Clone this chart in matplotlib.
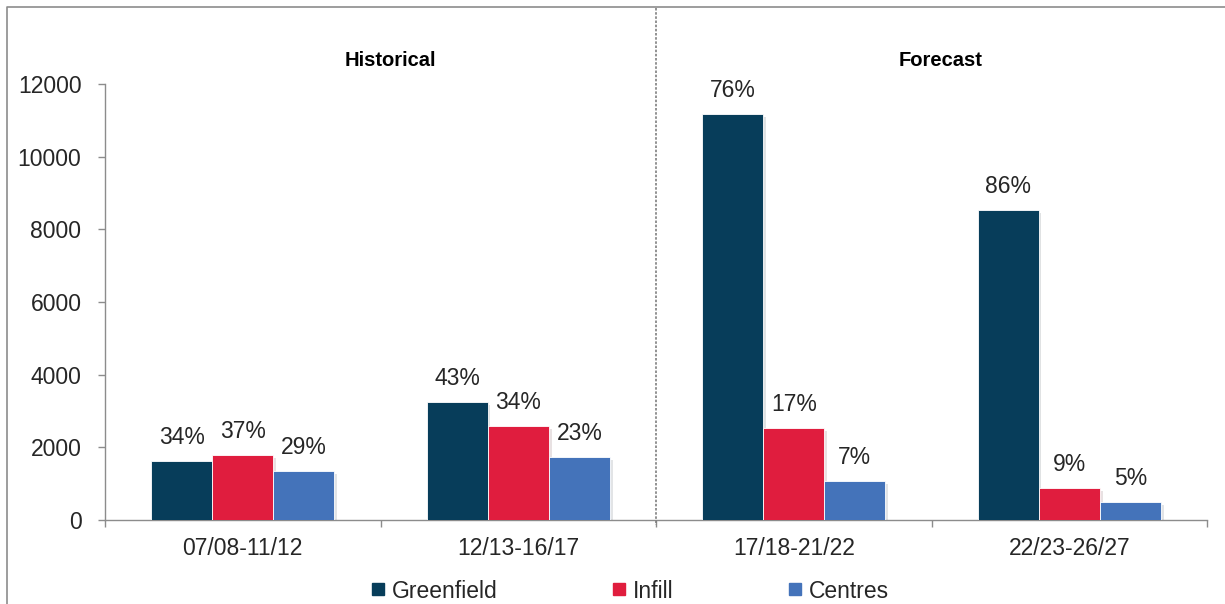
import matplotlib
matplotlib.use("Agg")
import matplotlib.pyplot as plt
from matplotlib.lines import Line2D
import matplotlib.patheffects as pe
import numpy as np

periods = ["07/08-11/12", "12/13-16/17", "17/18-21/22", "22/23-26/27"]
greenfield = [1620, 3250, 11170, 8530]
infill = [1790, 2590, 2530, 880]
centres = [1350, 1730, 1070, 495]
greenfield_pct = ["34%", "43%", "76%", "86%"]
infill_pct = ["37%", "34%", "17%", "9%"]
centres_pct = ["29%", "23%", "7%", "5%"]
series_names = ["Greenfield", "Infill", "Centres"]
colors = ["#073D5A", "#E01D3E", "#4473BA"]
headers = ["Historical", "Forecast"]

plt.rcParams['font.family'] = ['Liberation Sans', 'DejaVu Sans']
FS = 16.5
TXT = "#262626"
GREY = "#8C8C8C"

fig = plt.figure(figsize=(12.25, 6.04), dpi=100)
W, H = 1225, 604
ax = fig.add_axes([105 / W, 1 - 520 / H, (1207 - 105) / W, (520 - 84) / H])

x = np.arange(len(periods))
bw = 0.222
series = [greenfield, infill, centres]
pcts = [greenfield_pct, infill_pct, centres_pct]
shadow = [pe.SimplePatchShadow(offset=(2, -2), alpha=0.12), pe.Normal()]
for i, (vals, lab, col) in enumerate(zip(series, pcts, colors)):
    xs = x + (i - 1) * bw
    bars = ax.bar(xs, vals, width=bw, color=col, edgecolor="white", linewidth=0.6,
                  label=series_names[i], zorder=3)
    for b in bars:
        b.set_path_effects(shadow)
    for xi, v, t in zip(xs, vals, lab):
        ax.annotate(t, (xi, v), xytext=(0, 12), textcoords="offset points",
                    ha="center", va="baseline", fontsize=FS, color=TXT)

ax.set_xlim(-0.5, 3.5)
ax.set_ylim(0, 12000)
ax.set_yticks(np.arange(0, 12001, 2000))
ax.set_yticklabels([str(v) for v in range(0, 12001, 2000)], fontsize=FS, color=TXT)
ax.set_xticks(x)
ax.set_xticklabels(periods, fontsize=FS, color=TXT)
ax.tick_params(axis="x", which="major", length=0, pad=12)
ax.set_xticks(np.arange(-0.5, 3.6, 1.0), minor=True)
ax.tick_params(axis="x", which="minor", length=5, color=GREY, width=1)
ax.tick_params(axis="y", length=5, color=GREY, width=1, pad=12)
for s in ["top", "right"]:
    ax.spines[s].set_visible(False)
for s in ["left", "bottom"]:
    ax.spines[s].set_color(GREY)
    ax.spines[s].set_linewidth(1)

# divider
fig.add_artist(Line2D([656 / W, 656 / W], [1 - 8 / H, 1 - 525 / H], transform=fig.transFigure,
                      color="#7F7F7F", linestyle=(0, (1.5, 1)), linewidth=1.2))
# headers
fig.text(390 / W, 1 - 60 / H, headers[0], ha="center", va="center", fontsize=14.5,
         fontweight="bold", color="#000000")
fig.text(941 / W, 1 - 60 / H, headers[1], ha="center", va="center", fontsize=14.5,
         fontweight="bold", color="#000000")

# border
fig.add_artist(Line2D([7 / W, 7 / W, 1.0], [0, 1 - 7 / H, 1 - 7 / H], transform=fig.transFigure,
                      color="#8C8C8C", linewidth=1.2))

handles = [Line2D([], [], marker="s", linestyle="none", markersize=8.5, color=c) for c in colors]
leg = fig.legend(handles, series_names, loc="center", bbox_to_anchor=(630 / W, 1 - 591 / H),
                 ncol=3, frameon=False, fontsize=FS, handlelength=0.6, handletextpad=0.3,
                 columnspacing=5.0, borderpad=0)
for t in leg.get_texts():
    t.set_color(TXT)

fig.savefig("out.png", dpi=100)
